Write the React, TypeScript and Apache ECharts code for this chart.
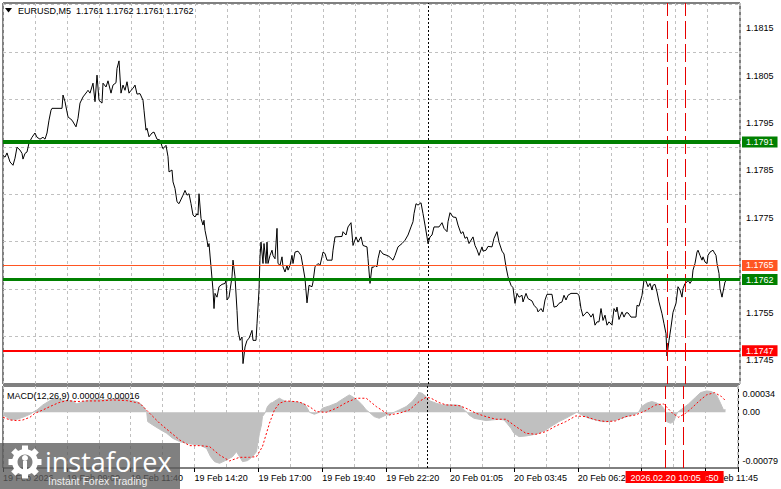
import React, { useEffect, useRef } from "react";
import * as echarts from "echarts";

const FONT = '"Liberation Sans", Arial, sans-serif';

// ---- price (M5 close) : bar index -> close ----
const priceBar = [
  0, 1, 2, 3.5, 5, 6, 7, 8.5, 9.5, 10, 11, 12, 13, 14.5, 16, 17, 18.5, 20, 21, 22, 23, 24, 24.5, 29.5, 30, 31,
  32.5, 34.5, 36.5, 37.5, 38.5, 40, 42, 42.5, 43.5, 45, 46, 47, 48, 49.5, 50, 51.5, 52.5, 54, 55, 56.5, 57, 58,
  59, 60, 61, 62, 63, 64, 65, 66, 67, 68.5, 70, 70.5, 71.5, 72, 73, 74.5, 75.5, 77, 78.5, 79.5, 80, 81.5, 82.5,
  83, 84.5, 85, 86, 87, 88, 90, 91, 92, 93, 94, 95, 96, 97, 97.5, 98, 99, 100, 100.5, 101, 102, 102.5, 103, 104,
  105, 105.5, 106, 107, 108, 109.5, 111, 111.5, 112, 113, 114.5, 115, 116, 117, 117.5, 118.5, 119.5, 120, 121,
  122, 123, 124.5, 125, 126.5, 127, 128, 128.5, 129, 130, 130.5, 131.5, 132, 132.5, 133.5, 134.5, 135, 136, 137,
  137.5, 138.5, 139.5, 140, 141, 142, 142.5, 143.5, 144.5, 145, 146, 147.5, 149, 150, 151, 152, 153, 154.5, 155,
  156, 157.5, 158.5, 159.5, 160, 161, 162, 164.5, 165, 166, 169.5, 170, 171.5, 172.5, 174, 175, 176.5, 177.5,
  179, 180, 182, 182.5, 183.5, 184.5, 185, 186, 187, 187.5, 188.5, 190, 192, 193, 195, 196, 197.5, 199.5, 201,
  202.5, 204, 205, 205.5, 206.5, 207.5, 209, 210, 211, 212, 212.5, 213.5, 214.5, 215.5, 218, 219.5, 220.5, 222,
  222.5, 223.5, 225, 226.5, 227.5, 229, 230, 231, 232, 233, 235, 236, 237, 238, 239.5, 240, 241.5, 242.5, 244.5,
  245.5, 247, 248, 249.5, 250.5, 251.5, 252.5, 254, 255, 256, 257, 258, 259.5, 260, 261.5, 262.5, 264.5, 265.5,
  267, 267.5, 269, 270, 271, 272, 274.5, 275.5, 277, 278, 279.5, 280.5, 281.5, 282.5, 284, 287, 288, 289, 290,
  291, 292, 293, 294, 295, 296, 297, 298, 299, 300, 301, 302, 303, 304.5, 305.5, 306.5, 307, 308, 309.5, 310.5,
  311.5, 312.5, 314, 316.5, 317, 318, 319.5, 320.5, 321.5, 322.5, 323.5, 324.5, 325, 326, 327, 328, 329.5,
  330.5, 331.5, 332, 333, 334, 335, 336.5, 337.5, 338.5, 339.5, 340, 341, 342, 342.5, 343.5, 344.5, 345, 346,
  347, 347.5, 348.5, 349.5, 350, 351, 352, 352.5, 353.5, 355, 355.5, 356.5, 357, 358, 358.5, 359.5, 360, 361, 362,
];
const priceClose = [
  1.17882, 1.17878, 1.17887, 1.17868, 1.17861, 1.17876, 1.17899, 1.17893, 1.17886, 1.17874, 1.17886, 1.17889,
  1.17908, 1.1792, 1.17929, 1.1792, 1.17916, 1.1792, 1.17916, 1.17929, 1.17956, 1.17977, 1.17981, 1.17981,
  1.18009, 1.17995, 1.17963, 1.17956, 1.17942, 1.1796, 1.17992, 1.18005, 1.18016, 1.18019, 1.18013, 1.18034,
  1.17995, 1.18051, 1.17998, 1.17992, 1.18034, 1.18026, 1.18039, 1.18013, 1.1803, 1.18035, 1.18065, 1.18081,
  1.18013, 1.1803, 1.18019, 1.18037, 1.18013, 1.18019, 1.18023, 1.1803, 1.18011, 1.18012, 1.17998, 1.17977,
  1.17935, 1.17939, 1.17921, 1.17929, 1.17931, 1.17916, 1.17914, 1.17901, 1.17896, 1.17903, 1.17879, 1.17847,
  1.17851, 1.17826, 1.17812, 1.17784, 1.1778, 1.17798, 1.17808, 1.17798, 1.17801, 1.1778, 1.17756, 1.17752,
  1.17759, 1.17756, 1.17801, 1.17749, 1.17735, 1.17745, 1.17724, 1.17703, 1.17689, 1.17696, 1.17647, 1.17598,
  1.17559, 1.17591, 1.17583, 1.17605, 1.1761, 1.17612, 1.17619, 1.17577, 1.17583, 1.17626, 1.17661, 1.17626,
  1.17555, 1.17513, 1.17492, 1.17499, 1.17443, 1.17478, 1.17492, 1.17496, 1.17513, 1.17492, 1.17492, 1.17527,
  1.17598, 1.17668, 1.17699, 1.17654, 1.17696, 1.17654, 1.17699, 1.17654, 1.17671, 1.17682, 1.17671, 1.17664,
  1.17728, 1.17654, 1.1765, 1.17668, 1.17647, 1.17636, 1.1765, 1.1764, 1.1765, 1.17671, 1.17654, 1.17678,
  1.1768, 1.17671, 1.17647, 1.17622, 1.17571, 1.17608, 1.17605, 1.17615, 1.17647, 1.17654, 1.1765, 1.17668,
  1.17678, 1.17675, 1.17661, 1.17661, 1.17682, 1.1771, 1.17711, 1.17721, 1.17714, 1.17731, 1.1774, 1.17692,
  1.1771, 1.17699, 1.1771, 1.17692, 1.17689, 1.17664, 1.17612, 1.17647, 1.17645, 1.1765, 1.17647, 1.17664,
  1.17682, 1.17674, 1.17671, 1.17669, 1.17661, 1.17671, 1.17689, 1.17696, 1.17703, 1.17714, 1.17731, 1.17742,
  1.17759, 1.1778, 1.17777, 1.17782, 1.17759, 1.17735, 1.1771, 1.17696, 1.1771, 1.17714, 1.17731, 1.17731,
  1.1774, 1.17728, 1.17721, 1.17742, 1.17761, 1.17752, 1.17751, 1.17735, 1.17717, 1.17721, 1.17707, 1.1771,
  1.17696, 1.1771, 1.17692, 1.17683, 1.17671, 1.17689, 1.1768, 1.17682, 1.1769, 1.17689, 1.17707, 1.17721,
  1.17699, 1.1768, 1.17674, 1.17647, 1.17626, 1.17608, 1.17603, 1.1757, 1.17591, 1.17583, 1.17587, 1.17573,
  1.17591, 1.1758, 1.17575, 1.17566, 1.17559, 1.17552, 1.17559, 1.17552, 1.17577, 1.17589, 1.17589, 1.17562,
  1.17564, 1.1757, 1.17573, 1.17587, 1.17577, 1.17587, 1.17591, 1.17591, 1.17587, 1.17559, 1.17543, 1.17548,
  1.17552, 1.17548, 1.17541, 1.17548, 1.17524, 1.17531, 1.17531, 1.17559, 1.17534, 1.17545, 1.17524, 1.17531,
  1.17524, 1.17559, 1.17552, 1.17562, 1.17536, 1.17552, 1.17541, 1.1755, 1.1755, 1.17541, 1.17541, 1.17566,
  1.17564, 1.17587, 1.17619, 1.17617, 1.17605, 1.17612, 1.17598, 1.17608, 1.1761, 1.17594, 1.17573, 1.17548,
  1.17527, 1.17506, 1.17459, 1.17492, 1.1752, 1.17551, 1.1757, 1.17605, 1.17598, 1.17583, 1.17601, 1.17612,
  1.17615, 1.17619, 1.17612, 1.17619, 1.1764, 1.17654, 1.17678, 1.17682, 1.17671, 1.17661, 1.17668, 1.17657,
  1.17654, 1.17671, 1.17678, 1.17682, 1.17678, 1.17671, 1.17654, 1.17633, 1.17601, 1.17583, 1.17594, 1.17615,
  1.1762,
];

// ---- MACD(12,26,9) histogram ----
const histBar = [
  0, 2, 4, 7, 10, 13.5, 15, 17, 20, 23.5, 26, 28.5, 32, 34.5, 37, 40, 43.5, 47, 50, 53.5, 57, 60, 63.5, 67, 69,
  71, 72, 72.5, 75, 78.5, 82, 85, 88.5, 92, 95, 98.5, 102, 104, 106, 108.5, 112, 115, 117, 118.5, 120, 122.5,
  125, 127, 127.5, 128.5, 129.5, 130, 131.5, 132.5, 134, 135, 137, 138.5, 140, 142, 145, 148.5, 151, 152.5,
  153.5, 156, 158.5, 160, 163.5, 167, 170, 173.5, 175, 177.5, 180, 182, 183.5, 186, 188.5, 192, 193.5, 196,
  198.5, 202, 205, 207, 208.5, 210, 212, 213.5, 217, 220, 223.5, 227, 229.5, 231, 232.5, 233.5, 236, 238.5,
  242, 245, 248.5, 251, 252.5, 254.5, 256, 258.5, 262, 265, 268.5, 272, 275, 278.5, 282, 285, 287.5, 290,
  293.5, 297, 300, 303.5, 307, 310, 313.5, 317, 318.5, 320, 322.5, 325, 327, 329.5, 331, 332, 332.5, 334.5,
  336, 337, 338, 340, 343.5, 347, 349.5, 352.5, 355, 357.5, 359.5, 361, 362,
];
const histVal = [
  -0.000042, -0.000078, -0.00012, -0.000109, -0.000078, -0.000031, 0, 0.000036, 0.000115, 0.000182, 0.000219,
  0.000203, 0.000177, 0.000182, 0.00013, 0.000167, 0.000193, 0.000208, 0.000193, 0.000203, 0.000219, 0.000219,
  0.000193, 0.000167, 0.00013, 0.000063, 0, -0.000146, -0.000198, -0.000266, -0.000328, -0.000406, -0.000458,
  -0.000484, -0.0005, -0.00051, -0.000563, -0.000693, -0.000771, -0.000797, -0.000745, -0.000693, -0.000615,
  -0.000693, -0.000771, -0.000755, -0.000693, -0.000615, -0.00051, -0.000328, -0.000198, -0.000068, 0,
  0.000089, 0.000141, 0.000151, 0.000193, 0.000219, 0.000193, 0.000167, 0.000167, 0.000151, 0.00013, 0.000063,
  0, -0.000031, 0, 0.000063, 0.000099, 0.000141, 0.000203, 0.000271, 0.000245, 0.000193, 0.000115, 0.000036,
  0, -0.000068, -0.000094, -0.000042, -0.000042, 0, 0.000036, 0.000089, 0.000167, 0.000245, 0.000307, 0.000297,
  0.000245, 0.000182, 0.000141, 0.000115, 0.000115, 0.000115, 0.000099, 0.000036, 0, -0.000042, -0.000094,
  -0.000109, -0.00013, -0.00012, -0.000109, -0.00012, -0.000172, -0.00025, -0.000328, -0.00038, -0.00037,
  -0.000354, -0.000328, -0.000276, -0.000214, -0.000146, -0.000094, -0.000042, 0, -0.000042, -0.000094,
  -0.00012, -0.000146, -0.000146, -0.00012, -0.000094, -0.000057, -0.000026, 0, 0.000089, 0.000141, 0.000167,
  0.000151, 0.000115, 0.000063, 0, -0.000146, -0.000172, -0.000146, -0.000068, 0, 0.000047, 0.00013, 0.000234,
  0.000307, 0.000333, 0.000323, 0.000271, 0.000141, 0.000036, 0.00004,
];

// ---- MACD signal line ----
const signalBar = [
  0, 3.5, 7, 10, 13.5, 16, 20, 23.5, 28, 32, 37, 42, 48.5, 55, 62, 68.5, 73.5, 78.5, 83.5, 88.5, 93.5, 98.5,
  103.5, 108.5, 113.5, 118.5, 123.5, 127, 130, 133.5, 136, 138.5, 142, 148.5, 153.5, 157, 162, 167, 172, 177,
  182, 187, 193.5, 198.5, 203.5, 208.5, 212, 214.5, 218.5, 222, 228.5, 232, 237, 242, 247, 252, 257, 262, 267,
  272, 277, 282, 287, 292, 297, 302, 307, 312, 317, 322, 327, 331, 335.5, 338.5, 342, 345, 348.5, 352.5, 356.5,
  360, 362,
];
const signalVal = [
  -0.000078, -0.00012, -0.00013, -0.00012, -0.000078, -0.000016, 0.000036, 0.000089, 0.000151, 0.000182,
  0.000167, 0.000177, 0.000177, 0.000193, 0.000182, 0.000141, -0.000016, -0.000172, -0.000302, -0.000432,
  -0.000521, -0.000521, -0.000536, -0.000667, -0.00076, -0.000703, -0.000703, -0.000693, -0.000536, -0.000172,
  0.000036, 0.000141, 0.000177, 0.000161, 0.000089, 0.00001, 0, 0.000063, 0.000151, 0.000219, 0.000219,
  0.000089, -0.000042, -0.000016, 0.000036, 0.000167, 0.000234, 0.000219, 0.000151, 0.000115, 0.000104,
  0.000063, -0.000016, -0.000068, -0.000109, -0.000109, -0.000224, -0.000328, -0.000344, -0.000302, -0.000214,
  -0.000146, -0.000057, -0.000068, -0.00012, -0.000146, -0.000135, -0.000068, -0.000042, 0.000026, 0.000115,
  0.00013, -0.000016, -0.000078, -0.000016, 0.000063, 0.000167, 0.000271, 0.000307, 0.000245, 0.00018,
];

// ---- axes ----
const priceTicks = [1.1745, 1.1755, 1.1765, 1.1775, 1.1785, 1.1795, 1.1805, 1.1815];
const priceTickLabels = ["1.1745", "1.1755", "1.1765", "1.1775", "1.1785", "1.1795", "1.1805", "1.1815"];
const macdTicks = [0.00034, 0, -0.00079];
const macdTickLabels = ["0.00034", "0.00", "-0.00079"];
const timeBars = [0, 32, 64, 96, 128, 160, 192, 224, 256, 288, 320, 352];
const timeLabels = [
  "19 Feb 2026", "19 Feb 09:00", "19 Feb 11:40", "19 Feb 14:20", "19 Feb 17:00", "19 Feb 19:40",
  "19 Feb 22:20", "20 Feb 01:05", "20 Feb 03:45", "20 Feb 06:25", "20 Feb 09:05", "20 Feb 11:45",
];

// ---- horizontal levels & vertical markers ----
const levelPrices = [1.1791, 1.1765, 1.1762, 1.1747];
const levelLabels = ["1.1791", "1.1765", "1.1762", "1.1747"];
const daySeparatorBars = [212.5];
const markerBars = [332, 341];
const markerLabels = ["2026.02.20 10:05", "2026.02.20 10:50"];

const headerText = "EURUSD,M5  1.1761 1.1762 1.1761 1.1762";
const macdTitle = "MACD(12,26,9) 0.00004 0.00016";

const LEVEL_STYLE = [
  { color: "#008000", width: 4 },
  { color: "#ff5522", width: 1 },
  { color: "#008000", width: 3 },
  { color: "#ff0000", width: 2 },
];
// vertical nudge of the MACD scale labels (rich style names), as the terminal insets them
const MACD_LABEL_RICH = ["dn", "mid", "up"];

function pairs(xs: number[], ys: number[]) {
  return xs.map((x, k) => [x, ys[k]]);
}

function buildOption() {
  const gridStyle = { color: "#c0c0c0", type: [3, 3] as any, width: 1 };
  const baseX = {
    type: "value",
    min: 0,
    max: 368.5,
    interval: 16,
    axisLine: { show: false },
    axisTick: { show: false },
    axisLabel: { show: false },
    splitLine: { show: true, lineStyle: gridStyle },
  };
  const vMarks = (withLabels: boolean) => {
    const data: any[] = [];
    daySeparatorBars.forEach((b) =>
      data.push({ xAxis: b, lineStyle: { color: "#000000", type: [2, 2], width: 1 }, label: { show: false } })
    );
    // later items are drawn on top: second marker first
    for (let k = markerBars.length - 1; k >= 0; k--) {
      data.push({
        xAxis: markerBars[k],
        lineStyle: { color: "#e60000", type: [18, 5], width: 1 },
        label: withLabels
          ? {
              show: true,
              position: "start",
              formatter: markerLabels[k],
              backgroundColor: "#ff0000",
              color: "#ffffff",
              fontSize: 9,
              fontFamily: FONT,
              padding: [2, 5, 1, 5],
              distance: 3,
            }
          : { show: false },
      });
    }
    return { silent: true, symbol: ["none", "none"], precision: 6, z: 5, data };
  };
  const pricePairs = pairs(priceBar, priceClose);

  return {
    animation: false,
    backgroundColor: "#ffffff",
    textStyle: { fontFamily: FONT },
    grid: [
      { left: 3, top: 3, width: 737, height: 381, show: true, borderColor: "#000", borderWidth: 1, backgroundColor: "transparent" },
      { left: 3, top: 386, width: 737, height: 82, show: true, borderColor: "#000", borderWidth: 1, backgroundColor: "transparent" },
    ],
    xAxis: [
      { ...baseX, gridIndex: 0 },
      { ...baseX, gridIndex: 1, position: "top" },
      {
        type: "value",
        gridIndex: 1,
        position: "bottom",
        min: 0,
        max: 368.5,
        interval: 32,
        axisLine: { show: false },
        axisTick: { show: true, length: 4, lineStyle: { color: "#000" } },
        splitLine: { show: false },
        axisLabel: {
          show: true,
          align: "left",
          margin: 5,
          fontSize: 9,
          color: "#000",
          fontFamily: FONT,
          formatter: (v: number) => {
            const k = timeBars.findIndex((t) => Math.abs(t - v) < 1e-6);
            return k >= 0 ? timeLabels[k] : "";
          },
        },
      },
    ],
    yAxis: [
      {
        type: "value",
        gridIndex: 0,
        position: "right",
        min: 1.174,
        max: 1.18203,
        interval: 0.0005,
        axisLine: { show: false },
        axisTick: { show: false },
        // ticks every 0.0005 from 1.1740: colour alternates so only x.xxx5 levels are visible
        splitLine: {
          show: true,
          showMinLine: false,
          showMaxLine: false,
          lineStyle: { color: ["rgba(0,0,0,0)", "#c0c0c0"], type: [3, 3], width: 1 },
        },
        axisLabel: {
          margin: 6,
          fontSize: 9,
          color: "#000",
          fontFamily: FONT,
          formatter: (v: number) => {
            const k = priceTicks.findIndex((t) => Math.abs(t - v) < 1e-7);
            return k >= 0 ? priceTickLabels[k] : "";
          },
        },
      },
      {
        type: "value",
        gridIndex: 1,
        position: "right",
        min: -0.00087,
        max: 0.00041,
        interval: 0.00001,
        axisLine: { show: false },
        axisTick: { show: false },
        splitLine: { show: false },
        axisLabel: {
          margin: 4,
          fontSize: 9,
          color: "#000",
          fontFamily: FONT,
          formatter: (v: number) => {
            const k = macdTicks.findIndex((t) => Math.abs(t - v) < 1e-9);
            return k >= 0 ? `{${MACD_LABEL_RICH[k]}|${macdTickLabels[k]}}` : "";
          },
          rich: {
            dn: { fontSize: 9, color: "#000", fontFamily: FONT, padding: [7, 0, 0, 0] },
            mid: { fontSize: 9, color: "#000", fontFamily: FONT },
            up: { fontSize: 9, color: "#000", fontFamily: FONT, padding: [0, 0, 4, 0] },
          },
        },
      },
    ],
    series: [
      {
        name: "EURUSD",
        type: "line",
        xAxisIndex: 0,
        yAxisIndex: 0,
        data: pricePairs,
        symbol: "none",
        lineStyle: { color: "#000000", width: 1 },
        z: 3,
        markLine: vMarks(false),
      },
      {
        name: "levels",
        type: "line",
        xAxisIndex: 0,
        yAxisIndex: 0,
        data: pricePairs,
        symbol: "none",
        silent: true,
        lineStyle: { color: "transparent", width: 0 },
        z: 4,
        markLine: {
          silent: true,
          symbol: ["none", "none"],
          precision: 6,
          z: 6,
          data: levelPrices.map((v, k) => ({
            yAxis: v,
            lineStyle: { color: LEVEL_STYLE[k].color, width: LEVEL_STYLE[k].width, type: "solid", opacity: 1 },
            label: {
              show: true,
              position: "end",
              formatter: levelLabels[k],
              backgroundColor: LEVEL_STYLE[k].color,
              color: "#ffffff",
              fontSize: 9,
              fontFamily: FONT,
              padding: [1, 4, 1, 4],
              distance: 2,
            },
          })),
        },
      },
      {
        name: "MACD",
        type: "line",
        xAxisIndex: 2,
        yAxisIndex: 1,
        data: pairs(histBar, histVal),
        symbol: "none",
        lineStyle: { color: "#c0c0c0", width: 1 },
        areaStyle: { color: "#c0c0c0", opacity: 1 },
        z: 2,
        markLine: vMarks(true),
      },
      {
        name: "Signal",
        type: "line",
        xAxisIndex: 2,
        yAxisIndex: 1,
        data: pairs(signalBar, signalVal),
        symbol: "none",
        lineStyle: { color: "#ff0000", width: 1, type: [2, 2] },
        z: 3,
      },
    ],
    graphic: [
      {
        type: "polygon",
        z: 50,
        shape: { points: [[5, 8], [12, 8], [8.5, 12.5]] },
        style: { fill: "#000" },
      },
      {
        type: "text",
        z: 50,
        x: 18,
        y: 10.5,
        style: { text: headerText, fill: "#000", font: `9px ${FONT}`, verticalAlign: "middle", textAlign: "left" },
      },
      {
        type: "text",
        z: 50,
        x: 7,
        y: 395.5,
        style: { text: macdTitle, fill: "#000", font: `9px ${FONT}`, verticalAlign: "middle", textAlign: "left" },
      },
      {
        type: "group",
        z: 100,
        children: [
          { type: "rect", z: 100, shape: { x: 0, y: 443, width: 180, height: 46 }, style: { fill: "rgba(92,92,92,0.78)" } },
          ...[0, 1, 2, 3, 4, 5, 6, 7].map((k) => ({
            type: "rect",
            z: 101,
            x: 25,
            y: 462,
            rotation: (k * Math.PI) / 4,
            shape: { x: -3, y: -16.5, width: 6, height: 5 },
            style: { fill: "#ffffff" },
          })),
          { type: "ring", z: 101, shape: { cx: 25, cy: 462, r: 13, r0: 7.5 }, style: { fill: "#ffffff" } },
          { type: "circle", z: 102, shape: { cx: 25, cy: 458, r: 3 }, style: { fill: "#ffffff" } },
          { type: "rect", z: 102, shape: { x: 23, y: 461, width: 4, height: 10 }, style: { fill: "#ffffff" } },
          {
            type: "text",
            z: 102,
            x: 45,
            y: 461,
            style: { text: "instaforex", fill: "#ffffff", font: `27px "Open Sans", ${FONT}`, verticalAlign: "middle", textAlign: "left" },
          },
          {
            type: "text",
            z: 102,
            x: 48,
            y: 480.5,
            style: { text: "Instant Forex Trading", fill: "#eeeeee", font: `10.5px ${FONT}`, verticalAlign: "middle", textAlign: "left" },
          },
        ],
      },
    ],
  };
}

export default function App() {
  const ref = useRef<HTMLDivElement>(null);
  useEffect(() => {
    document.body.style.margin = "0";
    if (!ref.current) return;
    const chart = echarts.init(ref.current, undefined, { renderer: "svg" });
    chart.setOption(buildOption() as any);
    return () => chart.dispose();
  }, []);
  return (
    <div
      ref={ref}
      style={{ position: "absolute", left: 0, top: 0, width: 781, height: 489, background: "#fff" }}
    />
  );
}
